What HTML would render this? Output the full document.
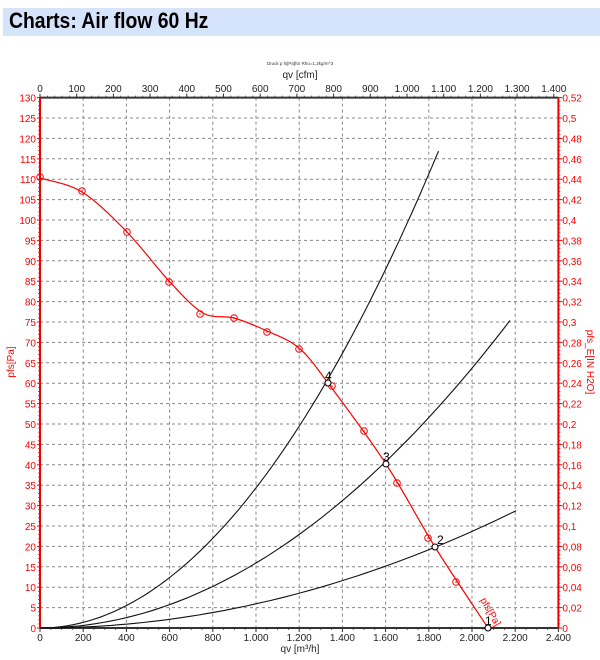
<!DOCTYPE html>
<html><head><meta charset="utf-8">
<style>
body{margin:0;background:#fff;width:600px;height:660px;overflow:hidden;font-family:"Liberation Sans",sans-serif}
.hdr{position:absolute;left:3px;top:8px;width:597px;height:28px;background:#d6e4fb}
.hdr span{position:absolute;left:6px;top:0px;font-family:"Liberation Sans Narrow","Liberation Sans",sans-serif;font-weight:bold;font-size:22px;color:#000;transform:scaleX(0.88);transform-origin:left}
svg{position:absolute;left:0;top:0}
</style></head><body>
<div class="hdr"><span>Charts: Air flow 60 Hz</span></div>
<svg id="s" width="600" height="660" xmlns="http://www.w3.org/2000/svg" font-family="Liberation Sans, sans-serif"></svg>
<script>
const s=document.getElementById('s');let h='';
const X=q=>40+q*0.216, Y=p=>628-p*4.08;
const R=X(2400),T=Y(130),B=628;
for(let q=200;q<2400;q+=200)h+=`<line x1="${X(q)}" y1="${T}" x2="${X(q)}" y2="${B}" stroke="#888" stroke-dasharray="3,3" stroke-width="1"/>`;
for(let p=5;p<130;p+=5)h+=`<line x1="40" y1="${Y(p)}" x2="${R}" y2="${Y(p)}" stroke="#888" stroke-dasharray="3,3" stroke-width="1"/>`;
h+=`<line x1="40" y1="${T}" x2="${R}" y2="${T}" stroke="#333" stroke-width="2"/>`;
h+=`<line x1="40" y1="${B}" x2="${R}" y2="${B}" stroke="#333" stroke-width="2"/>`;
h+=`<line x1="40" y1="${T}" x2="40" y2="${B}" stroke="#e00" stroke-width="2"/>`;
h+=`<line x1="${R}" y1="${T}" x2="${R}" y2="${B}" stroke="#e00" stroke-width="2"/>`;
for(let p=0;p<=130;p+=5){const y=Y(p);h+=`<text x="36" y="${y+4}" font-size="10" fill="#f00" text-anchor="end">${p}</text><line x1="37" y1="${y}" x2="40" y2="${y}" stroke="#f00"/>`;}
for(let p=1;p<130;p++)h+=`<line x1="38" y1="${Y(p)}" x2="40" y2="${Y(p)}" stroke="#f00" stroke-width="0.7"/>`;
for(let i=0;i<=26;i++){const v=i*0.02;const y=B-(i/26)*(B-T);let t=i==0?'0':v.toFixed(2).replace(/0+$/,'').replace('.',',');h+=`<text x="${R+4}" y="${y+4}" font-size="10" fill="#f00">${t}</text><line x1="${R}" y1="${y}" x2="${R+4}" y2="${y}" stroke="#f00"/>`;}
for(let i=0;i<130;i++){const y=B-(i/130)*(B-T);h+=`<line x1="${R}" y1="${y}" x2="${R+2}" y2="${y}" stroke="#f00" stroke-width="0.7"/>`;}
const fmt=n=>n>=1000?Math.floor(n/1000)+'.'+String(n%1000).padStart(3,'0'):String(n);
for(let q=0;q<=2400;q+=200){h+=`<text x="${X(q)}" y="641" font-size="10" fill="#222" text-anchor="middle">${fmt(q)}</text><line x1="${X(q)}" y1="${B}" x2="${X(q)}" y2="${B+4}" stroke="#333"/>`;}
for(let q=50;q<2400;q+=50)h+=`<line x1="${X(q)}" y1="${B}" x2="${X(q)}" y2="${B+2}" stroke="#333" stroke-width="0.7"/>`;
h+=`<text x="300" y="652" font-size="10" fill="#222" text-anchor="middle">qv [m³/h]</text>`;
for(let c=0;c<=1400;c+=100){const x=X(c*1.699);h+=`<text x="${x}" y="92" font-size="10" fill="#222" text-anchor="middle">${fmt(c)}</text><line x1="${x}" y1="${T-4}" x2="${x}" y2="${T}" stroke="#333"/>`;}
for(let c=20;c<1400;c+=20)h+=`<line x1="${X(c*1.699)}" y1="${T-2}" x2="${X(c*1.699)}" y2="${T}" stroke="#333" stroke-width="0.7"/>`;
h+=`<text x="300" y="78" font-size="10" fill="#222" text-anchor="middle">qv [cfm]</text>`;
h+=`<text x="300" y="65" font-size="4.5" fill="#333" text-anchor="middle">Druck p fs[Pa]für Rho=1,2kg/m^3</text>`;
h+=`<text transform="translate(14,362) rotate(-90)" font-size="10" fill="#f00" text-anchor="middle">pfs[Pa]</text>`;
h+=`<text transform="translate(587,362) rotate(90)" font-size="10" fill="#f00" text-anchor="middle">pfs_E[IN H2O]</text>`;
[[3.434e-5,1845],[1.592e-5,2176],[5.92e-6,2204]].forEach(([k,qm])=>{let d='';for(let i=0;i<=60;i++){const q=qm*i/60;d+=(i?'L':'M')+X(q).toFixed(1)+','+Y(k*q*q).toFixed(1);}h+=`<path d="${d}" fill="none" stroke="#111" stroke-width="1.1"/>`;});
const P=[[40,178],[82,192],[127,232],[169,281],[203,313],[234,318],[267,331],[299,348],[328,383],[386,464],[435,547],[488,628]];
let d=`M${P[0][0]},${P[0][1]}`;
for(let i=0;i<P.length-1;i++){const p0=P[i-1]||P[i],p1=P[i],p2=P[i+1],p3=P[i+2]||p2;
d+=`C${p1[0]+(p2[0]-p0[0])/6},${p1[1]+(p2[1]-p0[1])/6} ${p2[0]-(p3[0]-p1[0])/6},${p2[1]-(p3[1]-p1[1])/6} ${p2[0]},${p2[1]}`;}
h+=`<path d="${d}" fill="none" stroke="#f00" stroke-width="1.2"/>`;
[[40,177],[82,191],[127,232],[169,282],[200,314],[234,318],[267,332],[299,349],[332,386],[364,431],[397,483],[428,538],[456,582]].forEach(([x,y])=>{h+=`<circle cx="${x}" cy="${y}" r="3.3" fill="none" stroke="#f00" stroke-width="1"/><circle cx="${x}" cy="${y}" r="0.8" fill="#f00"/>`;});
[[328,383,'4'],[386,464,'3'],[435,547,'2'],[488,628,'1']].forEach(([x,y,t])=>{h+=`<circle cx="${x}" cy="${y}" r="3" fill="#fff" stroke="#000" stroke-width="1.1"/><text x="${x+(t=='2'?2:t=='1'?-3:-3)}" y="${y-3}" font-size="12" fill="#000">${t}</text>`;});
h+=`<text transform="translate(480,600) rotate(60)" font-size="10" fill="#f00">pfs[Pa]</text>`;
s.innerHTML=h;
</script>
</body></html>
